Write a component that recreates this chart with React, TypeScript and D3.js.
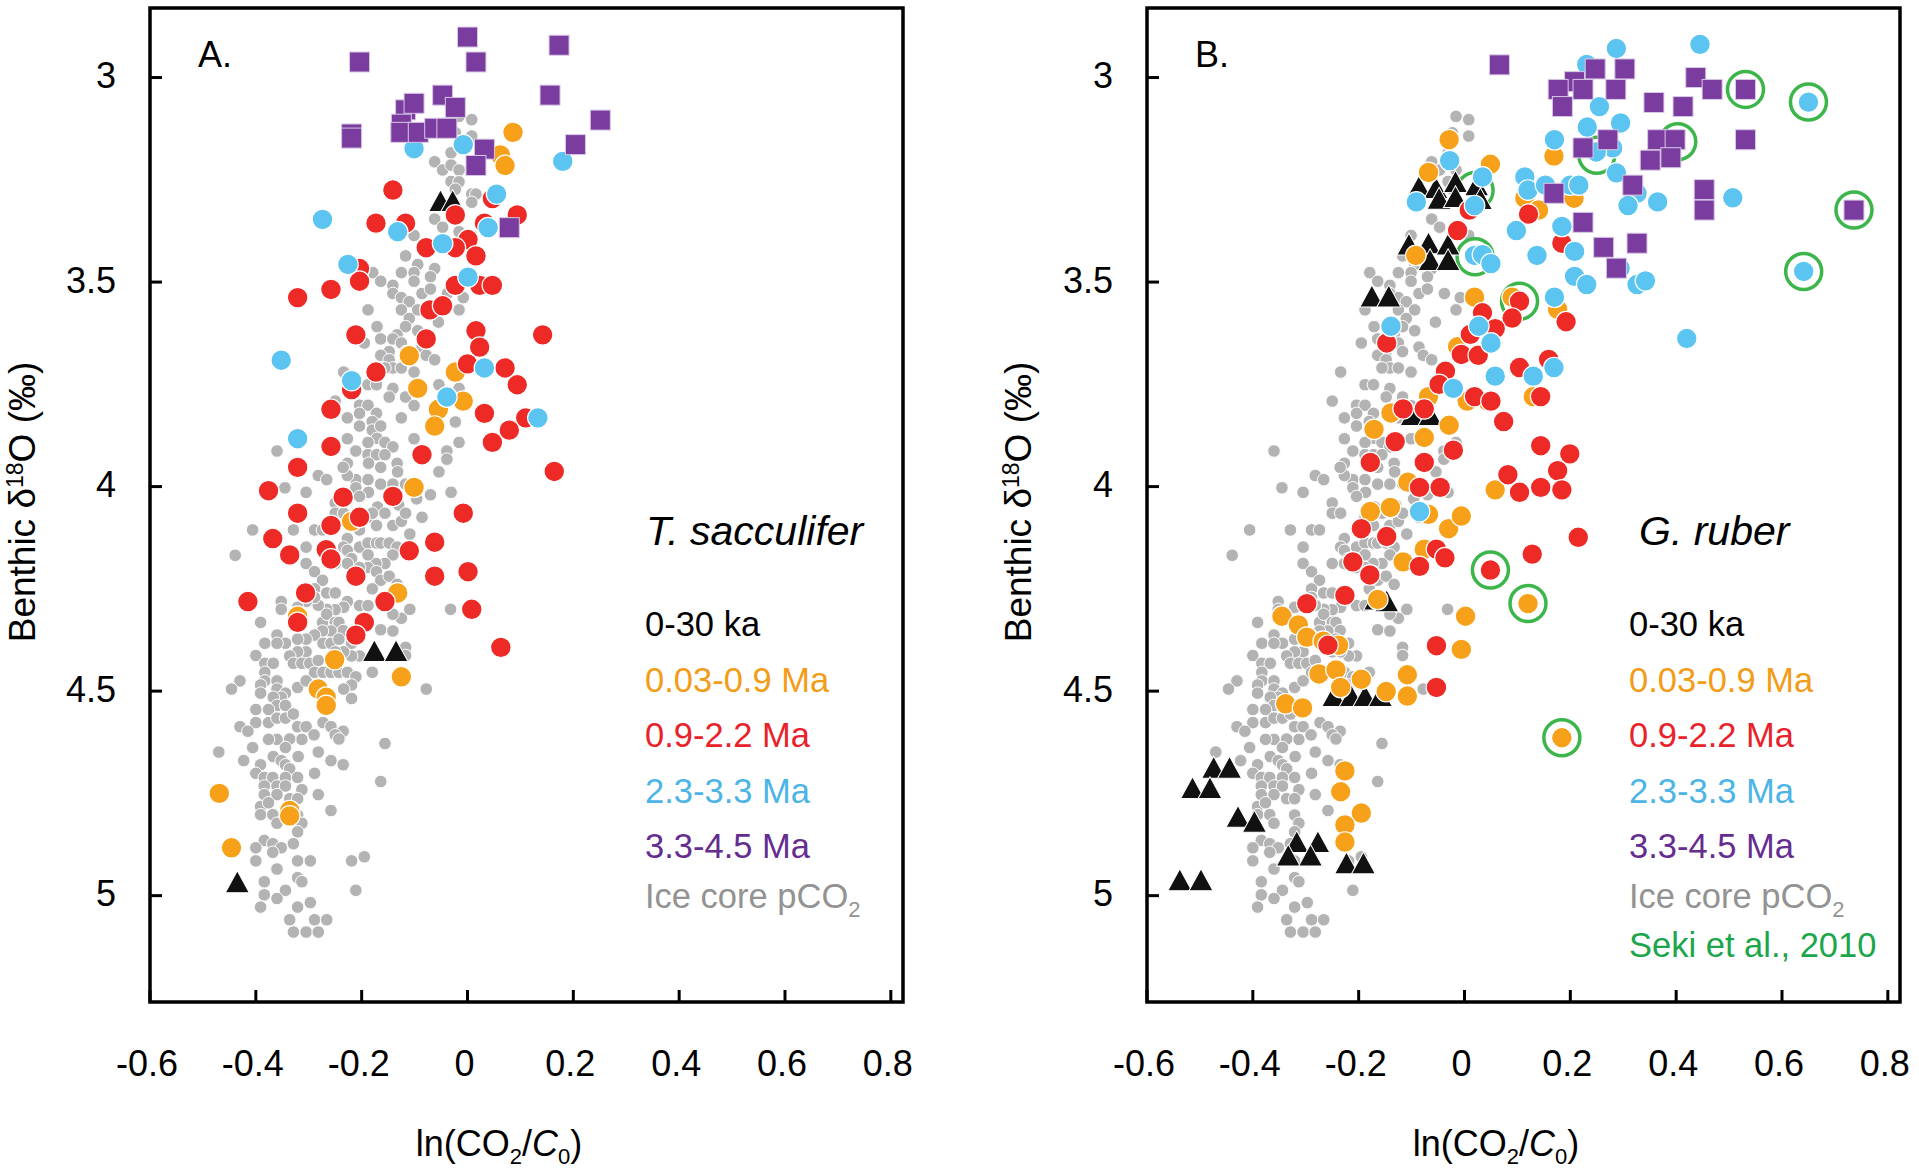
import React from "react";
import * as d3 from "d3";

type P = [number, number];

const xTicks = [-0.6, -0.4, -0.2, 0, 0.2, 0.4, 0.6, 0.8];
const yTicks = [3, 3.5, 4, 4.5, 5];
const legendLabels = ["0-30 ka", "0.03-0.9 Ma", "0.9-2.2 Ma", "2.3-3.3 Ma", "3.3-4.5 Ma"];

// Ice core pCO2 (same in both panels)
const iceCore: P[] = [
  [0.008, 3.103], [-0.016, 3.095], [-0.023, 3.135], [0.008, 3.143], [-0.031, 3.184], [-0.062, 3.206],
  [-0.047, 3.226], [-0.031, 3.214], [-0.016, 3.226], [-0.031, 3.254], [-0.016, 3.255], [-0.023, 3.273],
  [0.008, 3.285], [0.016, 3.285], [0.008, 3.305], [-0.062, 3.346], [-0.047, 3.366], [-0.101, 3.386],
  [-0.016, 3.377], [0.008, 3.386], [-0.117, 3.436], [-0.094, 3.457], [-0.062, 3.467], [-0.125, 3.477],
  [-0.101, 3.477], [-0.07, 3.487], [-0.101, 3.498], [-0.141, 3.508], [-0.179, 3.477], [-0.164, 3.498],
  [-0.086, 3.528], [-0.07, 3.517], [-0.141, 3.528], [-0.125, 3.538], [-0.11, 3.548], [-0.038, 3.528],
  [-0.008, 3.538], [-0.125, 3.568], [-0.11, 3.589], [-0.094, 3.568], [-0.055, 3.598], [-0.016, 3.568],
  [-0.188, 3.568], [-0.171, 3.609], [-0.117, 3.609], [-0.094, 3.619], [-0.133, 3.629], [-0.164, 3.639],
  [-0.141, 3.639], [-0.125, 3.649], [-0.195, 3.649], [-0.086, 3.659], [-0.148, 3.67], [-0.164, 3.679],
  [-0.117, 3.67], [-0.078, 3.679], [-0.062, 3.69], [-0.148, 3.69], [-0.141, 3.71], [-0.125, 3.71],
  [-0.156, 3.71], [-0.101, 3.72], [-0.234, 3.72], [-0.188, 3.751], [-0.172, 3.751], [-0.141, 3.76],
  [-0.148, 3.781], [-0.117, 3.781], [-0.101, 3.802], [-0.054, 3.751], [-0.016, 3.76], [-0.023, 3.842],
  [-0.25, 3.791], [-0.204, 3.801], [-0.188, 3.801], [-0.172, 3.821], [-0.204, 3.821], [-0.18, 3.841],
  [-0.125, 3.832], [-0.227, 3.832], [-0.204, 3.852], [-0.18, 3.862], [-0.164, 3.852], [-0.101, 3.883],
  [-0.171, 3.882], [-0.227, 3.883], [-0.188, 3.892], [-0.156, 3.892], [-0.141, 3.903], [-0.211, 3.913],
  [-0.188, 3.922], [-0.172, 3.922], [-0.156, 3.922], [-0.133, 3.943], [-0.227, 3.943], [-0.187, 3.943],
  [-0.164, 3.953], [-0.132, 3.964], [-0.054, 3.964], [-0.016, 3.892], [-0.039, 3.913], [-0.039, 3.933],
  [-0.282, 3.973], [-0.266, 3.983], [-0.211, 3.983], [-0.188, 3.983], [-0.164, 3.994], [-0.141, 3.994],
  [-0.117, 3.994], [-0.345, 4.003], [-0.305, 4.014], [-0.36, 3.913], [-0.211, 4.003], [-0.187, 4.014],
  [-0.031, 4.014], [-0.227, 3.973], [-0.235, 3.953], [-0.204, 4.024], [-0.07, 4.02], [-0.25, 4.04],
  [-0.13, 4.045], [-0.17, 4.05], [-0.096, 4.03],
  [-0.406, 4.106], [-0.329, 4.106], [-0.439, 4.168], [-0.305, 4.148], [-0.305, 4.188], [-0.289, 4.106],
  [-0.274, 4.106], [-0.25, 4.065], [-0.234, 4.065], [-0.204, 4.106], [-0.188, 4.075], [-0.18, 4.065],
  [-0.172, 4.095], [-0.156, 4.065], [-0.141, 4.095], [-0.125, 4.085], [-0.117, 4.065], [-0.109, 4.116],
  [-0.086, 4.075], [-0.227, 4.127], [-0.234, 4.148], [-0.227, 4.156], [-0.219, 4.176], [-0.204, 4.148],
  [-0.188, 4.138], [-0.172, 4.138], [-0.164, 4.138], [-0.148, 4.138], [-0.133, 4.148], [-0.141, 4.167],
  [-0.156, 4.188], [-0.173, 4.188], [-0.188, 4.167], [-0.188, 4.198], [-0.172, 4.208], [-0.204, 4.198],
  [-0.164, 4.229], [-0.148, 4.219], [-0.18, 4.25], [-0.133, 4.239], [-0.227, 4.188], [-0.25, 4.188],
  [-0.289, 4.208], [-0.274, 4.229], [-0.289, 4.25], [-0.266, 4.26], [-0.25, 4.26], [-0.227, 4.281],
  [-0.204, 4.291], [-0.188, 4.291], [-0.234, 4.295], [-0.25, 4.301], [-0.266, 4.3], [-0.282, 4.29],
  [-0.289, 4.271], [-0.305, 4.281], [-0.352, 4.281], [-0.352, 4.3], [-0.321, 4.295], [-0.391, 4.332],
  [-0.274, 4.332], [-0.266, 4.312], [-0.25, 4.332], [-0.243, 4.332], [-0.235, 4.352], [-0.258, 4.353],
  [-0.274, 4.353], [-0.289, 4.363], [-0.305, 4.373], [-0.321, 4.373], [-0.36, 4.363], [-0.344, 4.383],
  [-0.383, 4.383], [-0.36, 4.383], [-0.4, 4.413], [-0.273, 4.383], [-0.258, 4.383], [-0.243, 4.373],
  [-0.219, 4.383], [-0.204, 4.414], [-0.219, 4.414], [-0.234, 4.404], [-0.25, 4.404], [-0.305, 4.404],
  [-0.321, 4.404], [-0.336, 4.414], [-0.329, 4.432], [-0.313, 4.432], [-0.298, 4.432], [-0.282, 4.425],
  [-0.383, 4.432], [-0.367, 4.432], [-0.383, 4.454], [-0.383, 4.475], [-0.43, 4.475], [-0.446, 4.495],
  [-0.391, 4.485], [-0.391, 4.505], [-0.36, 4.475], [-0.36, 4.495], [-0.344, 4.505], [-0.321, 4.491],
  [-0.305, 4.475], [-0.289, 4.454], [-0.273, 4.454], [-0.258, 4.454], [-0.243, 4.454], [-0.227, 4.454],
  [-0.211, 4.465], [-0.219, 4.485], [-0.234, 4.495], [-0.219, 4.518], [-0.18, 4.454], [-0.164, 4.35],
  [-0.141, 4.353], [-0.117, 4.393], [-0.117, 4.413], [-0.109, 4.3], [-0.125, 4.322], [-0.141, 4.312],
  [-0.078, 4.495], [-0.032, 4.3], [-0.156, 4.628], [-0.164, 4.721], [-0.352, 4.515], [-0.367, 4.515],
  [-0.36, 4.535], [-0.344, 4.535], [-0.4, 4.545], [-0.376, 4.545], [-0.4, 4.577], [-0.376, 4.577],
  [-0.36, 4.566], [-0.344, 4.566], [-0.329, 4.556], [-0.321, 4.587], [-0.305, 4.587], [-0.273, 4.577],
  [-0.258, 4.587], [-0.235, 4.598], [-0.25, 4.607], [-0.243, 4.617], [-0.29, 4.607], [-0.313, 4.618],
  [-0.336, 4.617], [-0.36, 4.618], [-0.376, 4.618], [-0.344, 4.638], [-0.43, 4.587], [-0.415, 4.598],
  [-0.47, 4.649], [-0.423, 4.67], [-0.406, 4.638], [-0.367, 4.66], [-0.391, 4.68], [-0.352, 4.67],
  [-0.344, 4.68], [-0.336, 4.69], [-0.32, 4.66], [-0.4, 4.701], [-0.384, 4.711], [-0.368, 4.711],
  [-0.344, 4.711], [-0.321, 4.711], [-0.289, 4.701], [-0.258, 4.67], [-0.235, 4.68], [-0.282, 4.649],
  [-0.384, 4.732], [-0.36, 4.732], [-0.344, 4.732], [-0.313, 4.741], [-0.384, 4.753], [-0.36, 4.753],
  [-0.336, 4.763], [-0.321, 4.763], [-0.282, 4.753], [-0.391, 4.782], [-0.376, 4.773], [-0.391, 4.802],
  [-0.368, 4.802], [-0.36, 4.823], [-0.321, 4.803], [-0.313, 4.823], [-0.321, 4.844], [-0.329, 4.873],
  [-0.258, 4.792], [-0.384, 4.865], [-0.368, 4.873], [-0.4, 4.883], [-0.352, 4.883], [-0.368, 4.894],
  [-0.4, 4.915], [-0.321, 4.915], [-0.297, 4.915], [-0.219, 4.915], [-0.195, 4.905], [-0.36, 4.935],
  [-0.321, 4.956], [-0.313, 4.966], [-0.384, 4.966], [-0.344, 4.987], [-0.384, 4.998], [-0.36, 5.007],
  [-0.391, 5.028], [-0.321, 5.028], [-0.297, 5.017], [-0.211, 4.987], [-0.336, 5.059], [-0.289, 5.059],
  [-0.266, 5.059], [-0.329, 5.089], [-0.305, 5.089], [-0.282, 5.089],
];

// Panel A: T. sacculifer
const aTriangles: P[] = [[-0.051, 3.31], [-0.028, 3.31], [-0.176, 4.41], [-0.135, 4.41], [-0.435, 4.975]];
const aOrange: P[] = [
  [0.086, 3.134], [0.062, 3.189], [0.071, 3.215], [-0.11, 3.68], [-0.094, 3.76], [-0.023, 3.72],
  [-0.008, 3.791], [-0.055, 3.811], [-0.062, 3.852], [-0.101, 4.002], [-0.219, 4.085], [-0.132, 4.26],
  [-0.321, 4.317], [-0.251, 4.423], [-0.125, 4.465], [-0.282, 4.495], [-0.267, 4.515], [-0.267, 4.535],
  [-0.469, 4.75], [-0.336, 4.792], [-0.336, 4.805], [-0.446, 4.883],
];
const aRed: P[] = [
  [-0.141, 3.275], [-0.173, 3.356], [-0.117, 3.356], [-0.023, 3.336], [0.047, 3.296], [0.094, 3.336],
  [0.032, 3.356], [0.001, 3.396], [-0.078, 3.416], [-0.023, 3.416], [0.016, 3.436], [-0.204, 3.467],
  [-0.204, 3.498], [-0.258, 3.518], [-0.321, 3.538], [-0.023, 3.508], [0.023, 3.508], [0.047, 3.508],
  [-0.071, 3.568], [-0.047, 3.558], [0.016, 3.619], [0.023, 3.659], [0.142, 3.629], [-0.211, 3.629],
  [-0.078, 3.639], [-0.173, 3.72], [0.0, 3.7], [0.071, 3.71], [0.094, 3.751], [0.11, 3.832],
  [-0.219, 3.763], [-0.258, 3.811], [0.032, 3.821], [0.079, 3.862], [0.047, 3.892], [-0.258, 3.902],
  [-0.086, 3.922], [-0.321, 3.953], [0.164, 3.963], [-0.376, 4.01], [-0.235, 4.026], [-0.141, 4.024],
  [-0.321, 4.065], [-0.204, 4.075], [-0.258, 4.095], [-0.008, 4.065], [-0.368, 4.127], [-0.336, 4.167],
  [-0.267, 4.154], [-0.258, 4.177], [-0.11, 4.157], [-0.062, 4.136], [0.001, 4.208], [-0.062, 4.219],
  [-0.211, 4.219], [-0.415, 4.281], [-0.306, 4.26], [-0.156, 4.281], [0.008, 4.3], [-0.321, 4.332],
  [-0.195, 4.332], [-0.211, 4.363], [0.063, 4.393],
];
const aBlue: P[] = [
  [-0.101, 3.174], [-0.008, 3.164], [0.18, 3.205], [0.055, 3.285], [-0.274, 3.347], [-0.132, 3.377],
  [0.039, 3.367], [-0.047, 3.406], [-0.226, 3.457], [0.001, 3.488], [-0.352, 3.691], [-0.219, 3.741],
  [0.032, 3.71], [-0.039, 3.781], [0.133, 3.832], [-0.321, 3.883],
];
const aPurple: P[] = [
  [-0.204, 2.962], [0.0, 2.901], [0.016, 2.962], [0.173, 2.921], [0.156, 3.043], [0.251, 3.104],
  [0.204, 3.164], [-0.047, 3.043], [-0.023, 3.073], [-0.117, 3.079], [-0.101, 3.063], [-0.125, 3.114],
  [-0.126, 3.134], [-0.093, 3.134], [-0.062, 3.124], [-0.039, 3.124], [-0.219, 3.138], [-0.219, 3.148],
  [0.032, 3.175], [0.016, 3.215], [0.079, 3.367],
];

// Panel B: G. ruber
const bTriangles: P[] = [
  [-0.086, 3.275], [-0.054, 3.278], [-0.017, 3.263], [0.023, 3.271], [-0.048, 3.304], [-0.017, 3.3],
  [0.03, 3.305], [-0.105, 3.416], [-0.068, 3.413], [-0.031, 3.416], [-0.065, 3.454], [-0.031, 3.454],
  [-0.175, 3.543], [-0.143, 3.543], [-0.099, 3.833], [-0.065, 3.833], [-0.168, 4.284], [-0.147, 4.288],
  [-0.247, 4.52], [-0.214, 4.52], [-0.188, 4.52], [-0.159, 4.52], [-0.474, 4.695], [-0.444, 4.695],
  [-0.514, 4.745], [-0.481, 4.745], [-0.428, 4.815], [-0.397, 4.827], [-0.317, 4.877], [-0.277, 4.877],
  [-0.333, 4.91], [-0.291, 4.91], [-0.223, 4.929], [-0.191, 4.929], [-0.538, 4.97], [-0.498, 4.97],
];
const bOrange: P[] = [
  [-0.029, 3.152], [-0.068, 3.232], [0.049, 3.212], [0.169, 3.192], [0.114, 3.295], [0.14, 3.324],
  [0.207, 3.295], [-0.092, 3.435], [0.019, 3.537], [0.09, 3.537], [0.176, 3.567], [-0.013, 3.658],
  [0.005, 3.791], [0.044, 3.791], [0.13, 3.78], [-0.068, 3.78], [-0.139, 3.82], [-0.171, 3.86],
  [-0.076, 3.88], [-0.029, 3.85], [-0.107, 3.989], [0.058, 4.008], [-0.178, 4.061], [-0.14, 4.051],
  [-0.068, 4.068], [-0.03, 4.103], [-0.006, 4.072], [-0.076, 4.153], [-0.116, 4.184], [-0.164, 4.276],
  [0.002, 4.317], [-0.006, 4.398], [-0.345, 4.317], [-0.314, 4.338], [-0.298, 4.368], [-0.267, 4.378],
  [-0.238, 4.388], [-0.275, 4.458], [-0.243, 4.448], [-0.234, 4.491], [-0.195, 4.471], [-0.108, 4.46],
  [-0.148, 4.501], [-0.108, 4.512], [-0.338, 4.531], [-0.306, 4.541], [-0.226, 4.695], [-0.234, 4.746],
  [-0.195, 4.798], [-0.226, 4.827], [-0.226, 4.869], [0.12, 4.286], [0.184, 4.614],
];
const bRed: P[] = [
  [0.009, 3.324], [0.121, 3.334], [-0.013, 3.374], [0.184, 3.405], [0.104, 3.547], [0.09, 3.588],
  [0.034, 3.575], [0.058, 3.614], [0.192, 3.597], [-0.147, 3.649], [0.011, 3.628], [-0.006, 3.677],
  [0.026, 3.679], [-0.036, 3.718], [-0.048, 3.75], [0.104, 3.709], [0.159, 3.689], [0.019, 3.78],
  [0.05, 3.791], [0.144, 3.78], [0.074, 3.841], [-0.116, 3.81], [-0.076, 3.81], [-0.131, 3.89],
  [-0.021, 3.911], [-0.178, 3.941], [-0.076, 3.941], [0.144, 3.9], [0.199, 3.92], [0.082, 3.971],
  [0.176, 3.961], [-0.085, 4.002], [-0.046, 4.002], [0.104, 4.014], [0.144, 4.002], [0.184, 4.008],
  [-0.195, 4.103], [-0.147, 4.122], [-0.053, 4.153], [-0.037, 4.174], [-0.085, 4.195], [-0.211, 4.184],
  [-0.179, 4.216], [-0.226, 4.266], [-0.298, 4.286], [-0.258, 4.388], [0.215, 4.124], [0.128, 4.165],
  [0.049, 4.204], [-0.053, 4.389], [-0.053, 4.491],
];
const bBlue: P[] = [
  [0.287, 2.929], [0.445, 2.919], [0.231, 2.968], [0.255, 3.071], [0.295, 3.111], [0.232, 3.121],
  [0.65, 3.06], [0.17, 3.152], [0.28, 3.172], [0.249, 3.182], [0.287, 3.233], [-0.028, 3.203],
  [0.034, 3.243], [-0.091, 3.304], [0.019, 3.313], [0.114, 3.243], [0.12, 3.275], [0.153, 3.263],
  [0.2, 3.263], [0.216, 3.263], [0.326, 3.283], [0.309, 3.313], [0.365, 3.304], [0.507, 3.294],
  [0.098, 3.374], [0.184, 3.364], [0.208, 3.425], [0.137, 3.435], [0.019, 3.435], [0.034, 3.433],
  [0.05, 3.455], [0.208, 3.486], [0.231, 3.506], [0.326, 3.506], [0.342, 3.497], [0.294, 3.466],
  [0.641, 3.474], [0.17, 3.537], [0.42, 3.638], [-0.139, 3.608], [0.027, 3.608], [0.05, 3.649],
  [0.058, 3.73], [0.13, 3.73], [0.169, 3.709], [-0.021, 3.76], [-0.085, 4.061],
];
const bPurple: P[] = [
  [0.066, 2.969], [0.247, 2.979], [0.303, 2.979], [0.208, 3.01], [0.177, 3.029], [0.224, 3.029],
  [0.286, 3.029], [0.185, 3.071], [0.437, 3.0], [0.468, 3.029], [0.531, 3.029], [0.358, 3.061],
  [0.413, 3.071], [0.271, 3.152], [0.224, 3.172], [0.365, 3.152], [0.398, 3.152], [0.351, 3.202],
  [0.39, 3.196], [0.531, 3.152], [0.318, 3.263], [0.169, 3.283], [0.453, 3.274], [0.453, 3.324],
  [0.736, 3.324], [0.224, 3.354], [0.263, 3.415], [0.326, 3.405], [0.287, 3.466],
];
const bSeki: P[] = [
  [0.531, 3.029], [0.65, 3.06], [0.736, 3.324], [0.641, 3.474], [0.403, 3.157], [0.25, 3.19],
  [0.02, 3.276], [0.02, 3.438], [0.104, 3.547], [0.049, 4.204], [0.12, 4.286], [0.184, 4.614],
];

const C = {
  gray: "#b3b3b3",
  orange: "#f7a11b",
  red: "#ed2a26",
  blue: "#5cc4f0",
  purple: "#7a3c9e",
  tri: "#111111",
  ring: "#3cb54a",
};
const TXT = ["#000000", "#f39c17", "#e8222a", "#4cb4e6", "#662d91"];
const FONT = "'Liberation Sans', Arial, Helvetica, sans-serif";

const TOP = 8;
const BOTTOM = 1002;
const WIDTH = 753;

interface PanelProps {
  left: number;
  label: string;
  species: string;
  legendX: number;
  speciesX: number;
  tri: P[];
  orange: P[];
  red: P[];
  blue: P[];
  purple: P[];
  rings?: P[];
  titleX: number;
}

function Panel(p: PanelProps) {
  const x = d3.scaleLinear().domain([-0.6, 0.823]).range([p.left, p.left + WIDTH]);
  const y = d3.scaleLinear().domain([2.83, 5.26]).range([TOP, BOTTOM]);
  const tri = d3.symbol().type(d3.symbolTriangle).size(250)();
  const circ = (pts: P[], fill: string, r: number, sw: number, key: string) =>
    pts.map((d, i) => (
      <circle key={key + i} cx={x(d[0])} cy={y(d[1])} r={r} fill={fill} stroke="#fff" strokeWidth={sw} />
    ));
  const fmt = (v: number) => (v === 0 ? "0" : String(v));
  const legendBase = [636, 691.5, 747, 802.5, 858];
  return (
    <g>
      {circ(iceCore, C.gray, 6.3, 1, "g")}
      {(p.rings || []).map((d, i) => (
        <circle key={"s" + i} cx={x(d[0])} cy={y(d[1])} r={18} fill="#fff" stroke={C.ring} strokeWidth={3.5} />
      ))}
      {p.tri.map((d, i) => (
        <path key={"t" + i} d={tri || ""} transform={`translate(${x(d[0])},${y(d[1])}) scale(1,1.05)`} fill={C.tri} stroke="#fff" strokeWidth={1} />
      ))}
      {circ(p.orange, C.orange, 10.3, 1.2, "o")}
      {circ(p.red, C.red, 10.3, 1.2, "r")}
      {circ(p.blue, C.blue, 10.3, 1.2, "b")}
      {p.purple.map((d, i) => (
        <rect key={"p" + i} x={x(d[0]) - 10} y={y(d[1]) - 10} width={20} height={20} fill={C.purple} stroke="#d8c8e6" strokeWidth={1} />
      ))}

      <rect x={p.left} y={TOP} width={WIDTH} height={BOTTOM - TOP} fill="none" stroke="#000" strokeWidth={3.5} />
      {yTicks.map((v) => (
        <g key={"yt" + v}>
          <line x1={p.left} x2={p.left + 12} y1={y(v)} y2={y(v)} stroke="#000" strokeWidth={3} />
          <text x={p.left - 34} y={y(v)} dy="0.3em" textAnchor="end" fontSize={36} fontFamily={FONT}>{fmt(v)}</text>
        </g>
      ))}
      {xTicks.map((v) => (
        <g key={"xt" + v}>
          <line x1={x(v)} x2={x(v)} y1={BOTTOM} y2={BOTTOM - 12} stroke="#000" strokeWidth={3} />
          <text x={x(v) - 3} y={1076} textAnchor="middle" fontSize={36} fontFamily={FONT}>{fmt(v)}</text>
        </g>
      ))}
      <text x={p.left + 349} y={1156} textAnchor="middle" fontSize={36} fontFamily={FONT}>
        <tspan>ln(CO</tspan>
        <tspan fontSize={22} dy={8}>2</tspan>
        <tspan dy={-8}>/</tspan>
        <tspan fontStyle="italic">C</tspan>
        <tspan fontSize={22} dy={8}>0</tspan>
        <tspan dy={-8}>)</tspan>
      </text>
      <text transform={`translate(${p.titleX},502) rotate(-90)`} textAnchor="middle" fontSize={37} fontFamily={FONT}>
        <tspan>Benthic δ</tspan>
        <tspan fontSize={23} dy={-12}>18</tspan>
        <tspan dy={12}>O (‰)</tspan>
      </text>
      <text x={p.left + 48} y={67} fontSize={36} fontFamily={FONT}>{p.label}</text>
      <text x={p.speciesX} y={545} fontSize={41} fontStyle="italic" fontFamily={FONT}>{p.species}</text>
      {legendLabels.map((l, i) => (
        <text key={"l" + i} x={p.legendX} y={legendBase[i]} fontSize={34.5} fill={TXT[i]} fontFamily={FONT}>{l}</text>
      ))}
      <text x={p.legendX} y={908} fontSize={34.5} fill="#939393" fontFamily={FONT}>
        <tspan>Ice core pCO</tspan>
        <tspan fontSize={22} dy={9}>2</tspan>
      </text>
      {p.rings ? (
        <text x={p.legendX} y={957} fontSize={34.5} fill="#1ba64b" fontFamily={FONT}>Seki et al., 2010</text>
      ) : null}
    </g>
  );
}

export default function App() {
  return (
    <svg width={1919} height={1175} style={{ position: "absolute", left: 0, top: 0, background: "#fff" }}>
      <rect x={0} y={0} width={1919} height={1175} fill="#fff" />
      <Panel left={150} label="A." species="T. sacculifer" legendX={645} speciesX={646} tri={aTriangles} orange={aOrange}
        red={aRed} blue={aBlue} purple={aPurple} titleX={35} />
      <Panel left={1147} label="B." species="G. ruber" legendX={1629} speciesX={1639} tri={bTriangles} orange={bOrange}
        red={bRed} blue={bBlue} purple={bPurple} rings={bSeki} titleX={1031} />
    </svg>
  );
}
